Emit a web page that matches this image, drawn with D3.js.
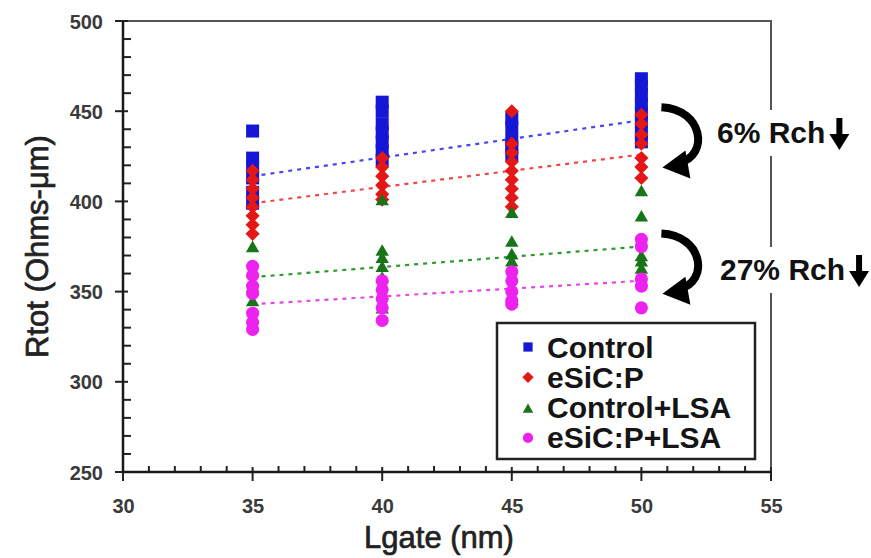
<!DOCTYPE html>
<html>
<head>
<meta charset="utf-8">
<script src="https://cdn.jsdelivr.net/npm/d3@7"></script>
<style>
body { margin: 0; background: #fff; }
text { font-family: "Liberation Sans", Arial, sans-serif; }
</style>
</head>
<body>
<script>
var width = 871;
var height = 558;

// gate lengths (nm)
var lgate = [35, 40, 45, 50];

// Rtot readings per gate length, one list per Lgate
var control    = [[439, 424, 419, 413, 405, 399], [455, 450, 443, 438, 433, 428, 423], [446, 441, 434, 430, 426], [468, 464, 459, 454, 449, 444, 438, 433]];
var esicP      = [[417, 412, 407, 402, 397, 392, 387, 382], [424, 419, 414, 409, 404, 401], [450, 432, 427, 422, 417, 412, 407, 402, 397], [448, 443, 437, 432, 424, 419, 413]];
var controlLsa = [[374, 360, 352, 344], [400, 372, 368, 363, 357, 340], [393, 377, 370, 366], [405, 391, 369, 366, 362]];
var esicPLsa   = [[364, 359, 353, 349, 338, 333, 329], [356, 351, 346, 341, 334], [361, 356, 350, 345, 343], [379, 375, 357, 353, 341]];

// linear fits, value at Lgate 35 and 50
var trendX = [35, 50];
var trendControl    = [414, 445];
var trendEsicP      = [399, 426];
var trendControlLsa = [358, 375];
var trendEsicPLsa   = [343, 356];

var seriesNames = ["Control", "eSiC:P", "Control+LSA", "eSiC:P+LSA"];
var xTicks = [30, 35, 40, 45, 50, 55];
var yTicks = [250, 300, 350, 400, 450, 500];
var notes = ["6% Rch", "27% Rch"];

var series = [
  { name: seriesNames[0], data: control,    trend: trendControl,    color: "#1616d6", line: "#4646ee", shape: "square" },
  { name: seriesNames[1], data: esicP,      trend: trendEsicP,      color: "#e51616", line: "#f04848", shape: "diamond" },
  { name: seriesNames[2], data: controlLsa, trend: trendControlLsa, color: "#187418", line: "#2c9a2c", shape: "triangle" },
  { name: seriesNames[3], data: esicPLsa,   trend: trendEsicPLsa,   color: "#ee22ee", line: "#e448e4", shape: "circle" }
];

var margin = { left: 123, right: 100, top: 21, bottom: 86 };

var x = d3.scaleLinear().domain([30, 55]).range([margin.left, width - margin.right]);
var y = d3.scaleLinear().domain([250, 500]).range([height - margin.bottom, margin.top]);

var svg = d3.select("body")
            .append("svg")
            .attr("width", width)
            .attr("height", height);

function symbolPath(shape, big) {
  if (shape == "square") return d3.symbol(d3.symbolSquare, big ? 169 : 85)();
  if (shape == "diamond") return d3.symbol(d3.symbolSquare, big ? 100 : 64)();
  if (shape == "triangle") return d3.symbol(d3.symbolTriangle, big ? 78 : 48)();
  return d3.symbol(d3.symbolCircle, big ? 135 : 80)();
}

// frame (top and right)
svg.append("path")
   .attr("d", "M" + x(30) + "," + y(500) + "H" + x(55) + "V" + y(250))
   .attr("fill", "none")
   .attr("stroke", "#555")
   .attr("stroke-width", 2);

// trend lines
var line = d3.line()
             .x(function(d, i){ return x(trendX[i]); })
             .y(function(d){ return y(d); });

svg.selectAll(".trend")
   .data(series)
   .enter()
   .append("path")
   .attr("class", "trend")
   .attr("d", function(s){ return line(s.trend); })
   .attr("fill", "none")
   .attr("stroke", function(s){ return s.line; })
   .attr("stroke-width", 2.2)
   .attr("stroke-dasharray", "4,5");

// points
series.forEach(function(s){
  var pts = [];
  s.data.forEach(function(vals, i){
    vals.forEach(function(v){ pts.push({ lg: lgate[i], v: v }); });
  });
  svg.append("g")
     .selectAll("path")
     .data(pts)
     .enter()
     .append("path")
     .attr("d", symbolPath(s.shape, true))
     .attr("transform", function(d){
       return "translate(" + x(d.lg) + "," + y(d.v) + ")" + (s.shape == "diamond" ? " rotate(45)" : "");
     })
     .attr("fill", s.color);
});

// axes
var xAxis = d3.axisBottom(x).tickValues(xTicks).tickSize(0).tickPadding(27);
var yAxis = d3.axisLeft(y).tickValues(yTicks).tickSize(0).tickPadding(20);

var gx = svg.append("g").attr("transform", "translate(0," + y(250) + ")").call(xAxis);
var gy = svg.append("g").attr("transform", "translate(" + x(30) + ",0)").call(yAxis);

[gx, gy].forEach(function(g){
  g.select(".domain").remove();
  g.selectAll("text")
   .attr("font-size", 20)
   .attr("font-weight", "bold")
   .attr("fill", "#3a3a3a");
});
gy.selectAll("text").attr("dy", "0.35em");

// minor and major ticks
svg.append("g").selectAll("line")
   .data(d3.range(30, 56, 1))
   .enter()
   .append("line")
   .attr("x1", function(d){ return x(d); })
   .attr("x2", function(d){ return x(d); })
   .attr("y1", function(d){ return d % 5 == 0 ? y(250) + 9 : y(250); })
   .attr("y2", function(d){ return d % 5 == 0 ? y(250) - 5 : y(250) - 6; })
   .attr("stroke", "#222")
   .attr("stroke-width", 2);

svg.append("g").selectAll("line")
   .data(d3.range(250, 501, 10))
   .enter()
   .append("line")
   .attr("y1", function(d){ return y(d); })
   .attr("y2", function(d){ return y(d); })
   .attr("x1", function(d){ return d % 50 == 0 ? x(30) - 8 : x(30); })
   .attr("x2", function(d){ return d % 50 == 0 ? x(30) + 5 : x(30) + 8; })
   .attr("stroke", "#222")
   .attr("stroke-width", 2);

svg.append("path")
   .attr("d", "M" + x(30) + "," + y(500) + "V" + y(250) + "H" + x(55))
   .attr("fill", "none")
   .attr("stroke", "#1a1a1a")
   .attr("stroke-width", 2.5);

// axis titles
svg.append("text")
   .attr("x", (x(30) + x(55)) / 2 - 8)
   .attr("y", 548)
   .attr("text-anchor", "middle")
   .attr("font-size", 31)
   .attr("fill", "#222")
   .attr("stroke", "#222")
   .attr("stroke-width", 0.7)
   .text("Lgate (nm)");

svg.append("text")
   .attr("transform", "translate(48," + ((y(250) + y(500)) / 2) + ") rotate(-90)")
   .attr("text-anchor", "middle")
   .attr("font-size", 31)
   .attr("fill", "#222")
   .attr("stroke", "#222")
   .attr("stroke-width", 0.7)
   .text("Rtot (Ohms-\u03bcm)");

// legend
var legend = svg.append("g");
legend.append("rect")
      .attr("x", 497).attr("y", 323)
      .attr("width", 258).attr("height", 136)
      .attr("fill", "#fff")
      .attr("stroke", "#222")
      .attr("stroke-width", 2.5);

var items = legend.selectAll(".item")
                  .data(series)
                  .enter()
                  .append("g")
                  .attr("transform", function(d, i){ return "translate(528," + (347 + i * 30.3) + ")"; });

items.append("path")
     .attr("d", function(s){ return symbolPath(s.shape, false); })
     .attr("transform", function(s){ return s.shape == "diamond" ? "rotate(45)" : (s.shape == "triangle" ? "translate(0,2)" : ""); })
     .attr("fill", function(s){ return s.color; });

items.append("text")
     .attr("x", 19)
     .attr("y", 10.5)
     .attr("font-size", 30)
     .attr("font-weight", "bold")
     .attr("fill", "#151515")
     .text(function(s){ return s.name; });

// annotations: curved arrows and Rch labels
function curvedArrow(vTop, vBot) {
  var x0 = x(50) + 20;
  var y0 = y(vTop) - 13;
  var y1 = y(vBot) + 11;
  svg.append("path")
     .attr("d", "M" + x0 + "," + y0 + " C" + (x0 + 42) + "," + (y0 + 2) + " " + (x0 + 48) + "," + (y1 - 10) + " " + (x0 + 18) + "," + (y1 - 3))
     .attr("fill", "none")
     .attr("stroke", "#000")
     .attr("stroke-width", 8);
  svg.append("path")
     .attr("d", "M" + (x0 + 1) + "," + (y1 + 2) + " L" + (x0 + 24) + "," + (y1 - 15) + " L" + (x0 + 29) + "," + (y1 + 13) + "Z")
     .attr("fill", "#000");
}

function note(label, tx, base) {
  svg.append("rect")
     .attr("x", tx - 5).attr("y", base - 33)
     .attr("width", 150).attr("height", 46)
     .attr("fill", "#fff");
  var t = svg.append("text")
             .attr("x", tx)
             .attr("y", base)
             .attr("font-size", 30)
             .attr("font-weight", "bold")
             .attr("fill", "#111")
             .text(label);
  var ax = tx + t.node().getComputedTextLength() + 14;
  svg.append("rect")
     .attr("x", ax - 3).attr("y", base - 25)
     .attr("width", 6).attr("height", 18)
     .attr("fill", "#000");
  svg.append("path")
     .attr("d", "M" + (ax - 10) + "," + (base - 9) + " L" + (ax + 10) + "," + (base - 9) + " L" + ax + "," + (base + 7) + "Z")
     .attr("fill", "#000");
}

curvedArrow(trendControl[1], trendEsicP[1]);
curvedArrow(trendControlLsa[1], trendEsicPLsa[1]);
note(notes[0], 717, 143);
note(notes[1], 720, 280);
</script>
</body>
</html>
